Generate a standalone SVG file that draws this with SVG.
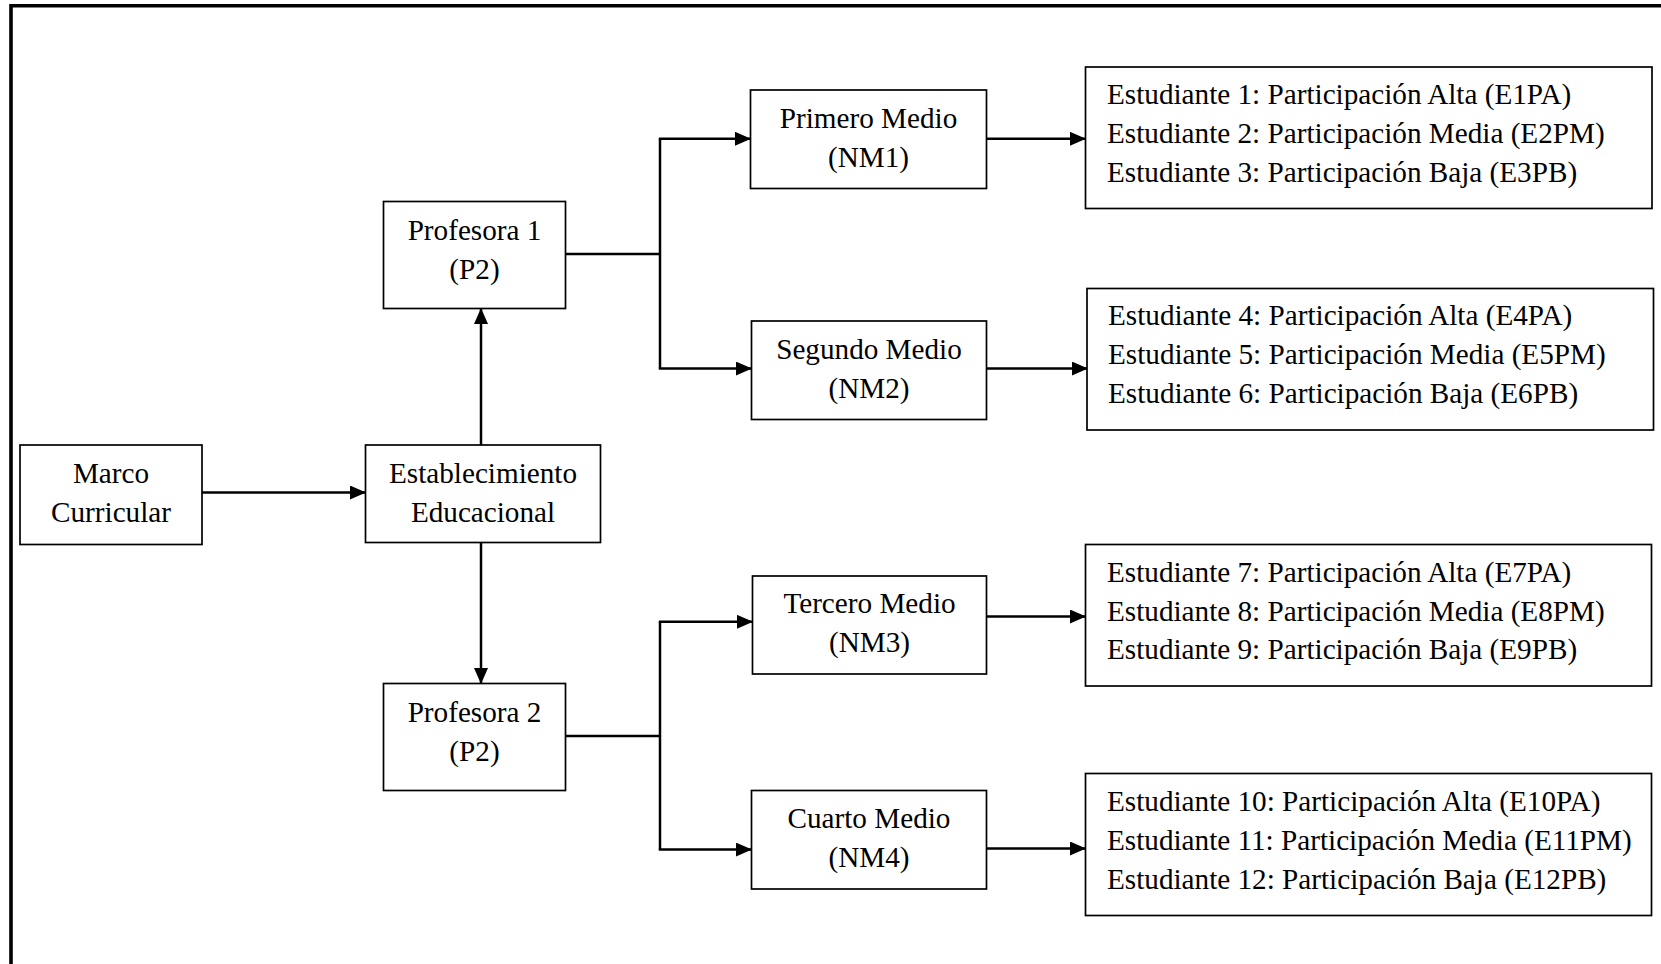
<svg xmlns="http://www.w3.org/2000/svg" width="1661" height="964" viewBox="0 0 1661 964">
<style>
.box{fill:#fff;stroke:#000;stroke-width:1.7}
.t{font-family:"Liberation Serif","Times New Roman",serif;font-size:29.2px;fill:#000}
.c{text-anchor:middle}
.ln{fill:none;stroke:#000;stroke-width:2.5}
</style>
<defs>
<marker id="ah" markerUnits="userSpaceOnUse" markerWidth="16" markerHeight="14" refX="15" refY="7" orient="auto">
<path d="M0,0 L16,7 L0,14 Z" fill="#000"/>
</marker>
</defs>
<rect width="1661" height="964" fill="#fff"/>
<path d="M11,964 V5.7 H1661" fill="none" stroke="#000" stroke-width="3.6"/>
<g id="connectors">
<path class="ln" d="M202,492.5 H365" marker-end="url(#ah)"/>
<path class="ln" d="M481,445 V309" marker-end="url(#ah)"/>
<path class="ln" d="M481,542.5 V683" marker-end="url(#ah)"/>
<path class="ln" d="M566,254 H660"/>
<path class="ln" d="M660,138.8 V368.6"/>
<path class="ln" d="M658.8,138.8 H750" marker-end="url(#ah)"/>
<path class="ln" d="M658.8,368.6 H751" marker-end="url(#ah)"/>
<path class="ln" d="M566,736 H660"/>
<path class="ln" d="M660,621.8 V849.6"/>
<path class="ln" d="M658.8,621.8 H752" marker-end="url(#ah)"/>
<path class="ln" d="M658.8,849.6 H751" marker-end="url(#ah)"/>
<path class="ln" d="M986,138.8 H1085" marker-end="url(#ah)"/>
<path class="ln" d="M986,368.6 H1087" marker-end="url(#ah)"/>
<path class="ln" d="M986,616.5 H1085" marker-end="url(#ah)"/>
<path class="ln" d="M986,848.5 H1085" marker-end="url(#ah)"/>
</g>
<g id="marco">
<rect class="box" x="20" y="445" width="182" height="99.5"/>
<text class="t c" x="111" y="483">Marco</text>
<text class="t c" x="111" y="522">Curricular</text>
</g>
<g id="establecimiento">
<rect class="box" x="365.5" y="445" width="235" height="97.5"/>
<text class="t c" x="483" y="483">Establecimiento</text>
<text class="t c" x="483" y="522">Educacional</text>
</g>
<g id="profesora1">
<rect class="box" x="383.5" y="201.5" width="182" height="107"/>
<text class="t c" x="474.5" y="240">Profesora 1</text>
<text class="t c" x="474.5" y="279">(P2)</text>
</g>
<g id="profesora2">
<rect class="box" x="383.5" y="683.5" width="182" height="107"/>
<text class="t c" x="474.5" y="722">Profesora 2</text>
<text class="t c" x="474.5" y="761">(P2)</text>
</g>
<g id="nm1">
<rect class="box" x="750.5" y="90" width="236" height="98.5"/>
<text class="t c" x="868.5" y="127.5">Primero Medio</text>
<text class="t c" x="868.5" y="166.5">(NM1)</text>
</g>
<g id="nm2">
<rect class="box" x="751.5" y="321" width="235" height="98.5"/>
<text class="t c" x="869" y="358.5">Segundo Medio</text>
<text class="t c" x="869" y="397.5">(NM2)</text>
</g>
<g id="nm3">
<rect class="box" x="752.5" y="576" width="234" height="98"/>
<text class="t c" x="869.5" y="613">Tercero Medio</text>
<text class="t c" x="869.5" y="652">(NM3)</text>
</g>
<g id="nm4">
<rect class="box" x="751.5" y="790.5" width="235" height="98.5"/>
<text class="t c" x="869" y="828">Cuarto Medio</text>
<text class="t c" x="869" y="867">(NM4)</text>
</g>
<g id="est1">
<rect class="box" x="1085.5" y="67" width="566.5" height="141.5"/>
<text class="t" x="1107" y="104">Estudiante 1: Participación Alta (E1PA)</text>
<text class="t" x="1107" y="143">Estudiante 2: Participación Media (E2PM)</text>
<text class="t" x="1107" y="182">Estudiante 3: Participación Baja (E3PB)</text>
</g>
<g id="est2">
<rect class="box" x="1087" y="288.5" width="566.5" height="141.5"/>
<text class="t" x="1108" y="325">Estudiante 4: Participación Alta (E4PA)</text>
<text class="t" x="1108" y="364">Estudiante 5: Participación Media (E5PM)</text>
<text class="t" x="1108" y="403">Estudiante 6: Participación Baja (E6PB)</text>
</g>
<g id="est3">
<rect class="box" x="1085.5" y="544.5" width="566" height="141.5"/>
<text class="t" x="1107" y="582">Estudiante 7: Participación Alta (E7PA)</text>
<text class="t" x="1107" y="621">Estudiante 8: Participación Media (E8PM)</text>
<text class="t" x="1107" y="659">Estudiante 9: Participación Baja (E9PB)</text>
</g>
<g id="est4">
<rect class="box" x="1085.5" y="773.5" width="566" height="142"/>
<text class="t" x="1107" y="811">Estudiante 10: Participación Alta (E10PA)</text>
<text class="t" x="1107" y="850">Estudiante 11: Participación Media (E11PM)</text>
<text class="t" x="1107" y="889">Estudiante 12: Participación Baja (E12PB)</text>
</g>
</svg>
